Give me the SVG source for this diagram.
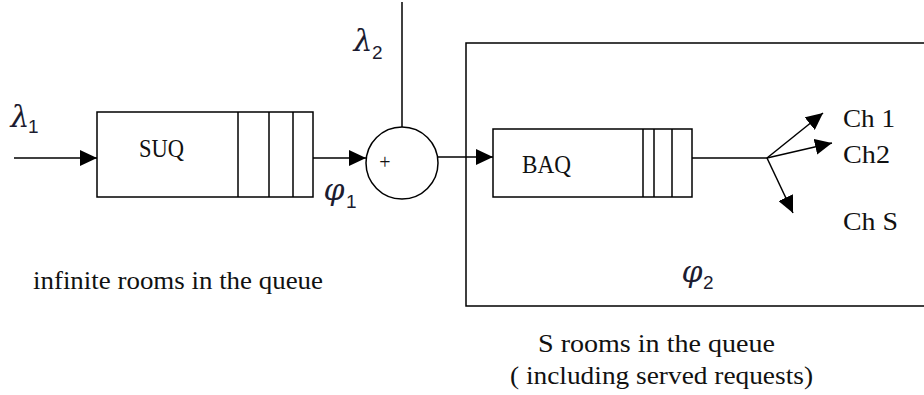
<svg xmlns="http://www.w3.org/2000/svg" width="924" height="395" viewBox="0 0 924 395">
<style>
.ln{stroke:#000;stroke-width:1.5;fill:none}
.bx{stroke:#000;stroke-width:1.5;fill:#fff}
.t{font-family:'Liberation Serif','DejaVu Serif',serif;font-size:25px;fill:#111}
.m{font-family:'DejaVu Serif','Liberation Serif',serif;font-style:italic;font-size:30px;fill:#1c1c30;text-anchor:middle}
.s{font-family:'Liberation Sans','DejaVu Sans',sans-serif;font-size:19px;fill:#1c1c30}
</style>
<defs>
<marker id="ah" markerUnits="userSpaceOnUse" markerWidth="18" markerHeight="16" refX="17" refY="8" orient="auto">
<path d="M0,0 L17,8 L0,16 z" fill="#000"/>
</marker>
</defs>
<rect width="924" height="395" fill="#fff"/>
<g id="connectors">
<line class="ln" x1="14" y1="158" x2="97" y2="158" marker-end="url(#ah)"/>
<line class="ln" x1="313" y1="158" x2="366" y2="158" marker-end="url(#ah)"/>
<line class="ln" x1="402" y1="2" x2="402" y2="127"/>
<line class="ln" x1="438" y1="157" x2="493" y2="157" marker-end="url(#ah)"/>
<line class="ln" x1="692" y1="158" x2="767" y2="158"/>
<line class="ln" x1="767" y1="158" x2="823" y2="113" marker-end="url(#ah)"/>
<line class="ln" x1="767" y1="158" x2="832" y2="143" marker-end="url(#ah)"/>
<line class="ln" x1="767" y1="158" x2="793" y2="213" marker-end="url(#ah)"/>
</g>
<g id="system">
<path class="ln" d="M930,43 H466 V306 H930"/>
</g>
<g id="SUQ">
<rect class="bx" x="97" y="112" width="216" height="85"/>
<line class="ln" x1="238" y1="112" x2="238" y2="197"/>
<line class="ln" x1="269" y1="112" x2="269" y2="197"/>
<line class="ln" x1="293" y1="112" x2="293" y2="197"/>
<text class="t" x="139" y="157" textLength="45" lengthAdjust="spacingAndGlyphs">SUQ</text>
</g>
<g id="sum">
<circle class="bx" cx="402" cy="163" r="36"/>
<text class="t" x="385" y="169" text-anchor="middle" style="font-size:20px">+</text>
</g>
<g id="BAQ">
<rect class="bx" x="493" y="129" width="199" height="68"/>
<line class="ln" x1="643" y1="129" x2="643" y2="197"/>
<line class="ln" x1="654" y1="129" x2="654" y2="197"/>
<line class="ln" x1="672" y1="129" x2="672" y2="197"/>
<text class="t" x="522" y="173" textLength="49" lengthAdjust="spacingAndGlyphs">BAQ</text>
</g>
<g id="labels">
<text class="m" x="20" y="127">λ</text><text class="s" x="28" y="133">1</text>
<text class="m" x="363" y="51">λ</text><text class="s" x="372" y="59">2</text>
<text class="m" x="334" y="200">φ</text><text class="s" x="346" y="208">1</text>
<text class="m" x="692" y="282">φ</text><text class="s" x="703" y="289">2</text>
<text class="t" x="843" y="127" textLength="52" lengthAdjust="spacingAndGlyphs">Ch 1</text>
<text class="t" x="843" y="163" textLength="47" lengthAdjust="spacingAndGlyphs">Ch2</text>
<text class="t" x="843" y="230" textLength="55" lengthAdjust="spacingAndGlyphs">Ch S</text>
<text class="t" x="33" y="289" textLength="290" lengthAdjust="spacingAndGlyphs">infinite rooms in the queue</text>
<text class="t" x="538" y="352" textLength="237" lengthAdjust="spacingAndGlyphs">S rooms in the queue</text>
<text class="t" x="510" y="384" textLength="303" lengthAdjust="spacingAndGlyphs">( including served requests)</text>
</g>
</svg>
